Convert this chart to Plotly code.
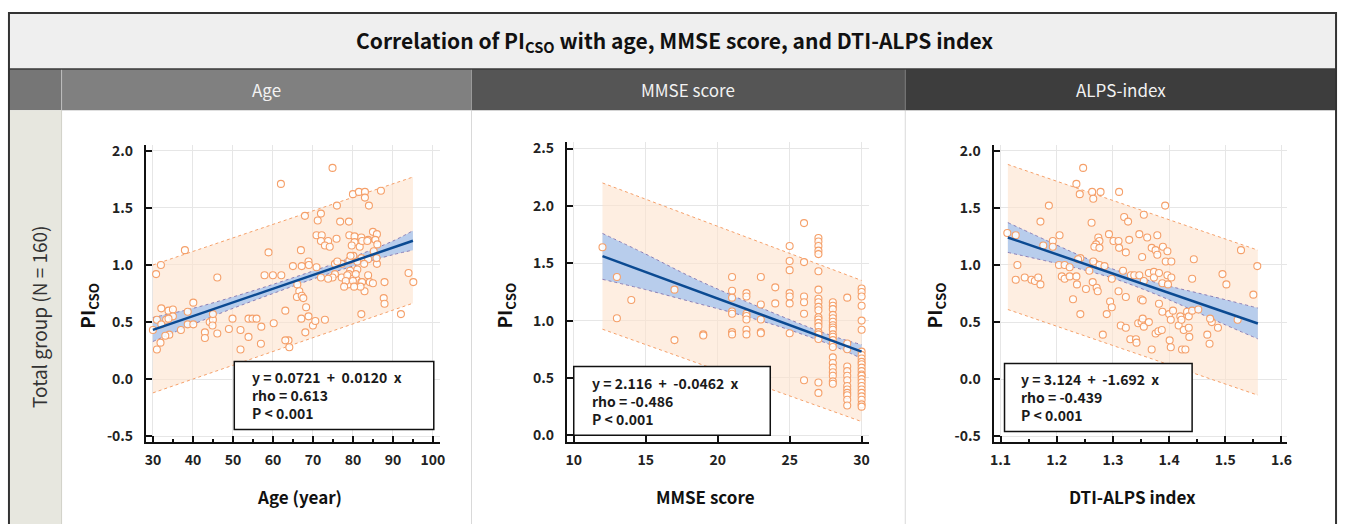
import plotly.graph_objects as go

W, H = 1347, 524
FONT = "Noto Sans CJK KR, Noto Sans, sans-serif"

# ---------------- data ----------------
titles = ["Age", "MMSE score", "ALPS-index"]
x_titles = ["Age (year)", "MMSE score", "DTI-ALPS index"]
row_label = "Total group (N = 160)"
eq_text = ["y = 0.0721  +  0.0120  x", "y = 2.116  +  -0.0462  x", "y = 3.124  +  -1.692  x"]
rho_text = ["rho = 0.613", "rho = -0.486", "rho = -0.439"]
p_text = ["P < 0.001", "P < 0.001", "P < 0.001"]
reg_intercept = [0.0721, 2.116, 3.124]
reg_slope = [0.0120, -0.0462, -1.692]

x_ticks_age = [30, 40, 50, 60, 70, 80, 90, 100]
x_ticks_mmse = [10, 15, 20, 25, 30]
x_ticks_alps = [1.1, 1.2, 1.3, 1.4, 1.5, 1.6]
x_ticklabels_alps = ["1.1", "1.2", "1.3", "1.4", "1.5", "1.6"]
y_ticks_a = [-0.5, 0.0, 0.5, 1.0, 1.5, 2.0]
y_ticklabels_a = ["-0.5", "0.0", "0.5", "1.0", "1.5", "2.0"]
y_ticks_b = [0.0, 0.5, 1.0, 1.5, 2.0, 2.5]
y_ticklabels_b = ["0.0", "0.5", "1.0", "1.5", "2.0", "2.5"]

# Panel 1: Age
age = [74.9, 62.0, 87.0, 80.0, 81.5, 83.0, 83.0, 84.0, 76.0,
       68.0, 72.0, 71.2, 76.8, 79.0,
       70.9, 72.2, 73.8, 72.0, 73.0, 74.2, 75.9, 79.1, 80.4, 82.1, 85.0, 86.0, 85.6, 83.8, 80.4, 79.7, 81.7, 82.3,
       58.9, 67.0, 38.0, 32.0, 30.8, 46.1,
       57.9, 60.0, 62.1,
       65.0, 67.2, 68.9, 69.0, 70.9, 72.0,
       75.5, 77.2, 79.1, 80.1, 82.1, 83.8, 86.0, 85.9, 79.3, 81.1, 79.0, 79.9, 80.9, 82.1, 82.9, 83.8, 84.2, 85.0, 87.9, 87.7, 87.9,
       78.8, 80.0, 77.2, 75.5, 78.6,
       93.9, 95.1, 92.0, 82.1,
       66.1, 66.6, 66.0, 67.2, 67.6, 68.3, 68.9, 67.1, 68.1, 70.0, 70.6, 73.0, 60.2,
       63.1, 63.9, 63.1, 64.1,
       49.9, 53.9, 54.9, 55.9, 49.0, 51.9, 53.9, 57.1, 57.0, 51.9,
       30.0, 31.0, 33.3, 32.1, 33.9, 35.0, 35.0, 33.9, 32.1, 34.1, 33.1, 31.0, 31.9, 37.0, 38.7, 40.1, 38.7, 40.1,
       43.0, 43.0, 44.2, 45.0, 45.0, 46.1, 44.9,
       76.1, 79.4, 81.1, 82.8, 85.2, 83.6, 86.1, 74.9, 78.2, 80.7, 82.3, 81.9, 77.8, 80.3, 73.8]
pi_age = [1.85, 1.71, 1.65, 1.62, 1.64, 1.64, 1.59, 1.52, 1.52,
          1.43, 1.45, 1.39, 1.38, 1.38,
          1.26, 1.26, 1.21, 1.21, 1.17, 1.16, 1.23, 1.26, 1.25, 1.24, 1.29, 1.27, 1.22, 1.22, 1.20, 1.17, 1.16, 1.21,
          1.11, 1.13, 1.13, 1.00, 0.92, 0.89,
          0.91, 0.91, 0.91,
          0.99, 0.99, 1.03, 1.00, 0.98, 0.89,
          1.01, 1.01, 1.04, 1.08, 1.06, 1.05, 1.01, 1.06, 0.95, 0.96, 0.92, 0.88, 0.87, 0.85, 0.77, 0.91, 0.85, 0.84, 0.85, 0.71, 0.66,
          0.83, 0.86, 0.89, 0.92, 0.91,
          0.93, 0.85, 0.57, 0.57,
          0.83, 0.77, 0.72, 0.73, 0.71, 0.63, 0.55, 0.53, 0.41, 0.47, 0.51, 0.52, 0.49,
          0.60, 0.34, 0.34, 0.28,
          0.53, 0.53, 0.53, 0.53, 0.44, 0.43, 0.37, 0.46, 0.31, 0.26,
          0.43, 0.52, 0.52, 0.62, 0.60, 0.61, 0.55, 0.53, 0.48, 0.39, 0.38, 0.26, 0.32, 0.43, 0.48, 0.67, 0.59, 0.48,
          0.41, 0.36, 0.50, 0.52, 0.57, 0.40, 0.47,
          1.03, 1.08, 1.03, 1.01, 1.12, 1.21, 1.18, 0.89, 0.86, 0.92, 0.85, 0.81, 0.81, 0.81, 0.88]

# Panel 2: MMSE
mmse = [12, 13, 13, 14, 17, 17, 19, 19,
        21, 21, 21, 21, 21, 21, 21,
        22, 22, 22, 22, 22, 22, 22,
        23, 23, 23, 23, 23,
        24, 24,
        25, 25, 25, 25, 25, 25, 25,
        26, 26, 26, 26, 26, 26,
        27, 27, 27, 27, 27, 27, 27, 27, 27, 27, 27, 27, 27, 27, 27, 27, 27, 27, 27, 27,
        28, 28, 28, 28, 28, 28, 28, 28, 28, 28, 28, 28, 28, 28, 28, 28, 28, 28, 28, 28, 28,
        29, 29, 29, 29, 29, 29, 29, 29, 29, 29, 29, 29, 29,
        30, 30, 30, 30, 30, 30, 30, 30, 30, 30, 30, 30, 30, 30, 30, 30, 30, 30, 30, 30, 30, 30, 30, 30]
pi_mmse = [1.64, 1.38, 1.02, 1.18, 1.27, 0.83, 0.88, 0.87,
           1.38, 1.26, 1.20, 1.08, 1.06, 0.90, 0.88,
           1.24, 1.21, 1.06, 1.04, 1.01, 0.92, 0.88,
           1.38, 1.14, 1.01, 0.90, 0.89,
           1.29, 1.15,
           1.65, 1.52, 1.44, 1.24, 1.21, 1.15, 0.89,
           1.85, 1.51, 1.21, 1.16, 1.06, 0.48,
           1.72, 1.69, 1.65, 1.61, 1.58, 1.43, 1.27, 1.19, 1.16, 1.12, 1.09, 1.03, 1.01, 0.98, 0.95, 0.90, 0.88, 0.84, 0.46, 0.37,
           1.16, 1.13, 1.10, 1.05, 1.02, 0.99, 0.96, 0.94, 0.92, 0.88, 0.86, 0.83, 0.80, 0.77, 0.68, 0.63, 0.59, 0.55, 0.52, 0.47, 0.45,
           1.20, 0.80, 0.75, 0.60, 0.56, 0.52, 0.48, 0.43, 0.40, 0.37, 0.35, 0.31, 0.26,
           1.28, 1.25, 1.21, 1.13, 1.00, 0.92, 0.73, 0.70, 0.67, 0.64, 0.62, 0.59, 0.56, 0.53, 0.52, 0.49, 0.46, 0.43, 0.40, 0.37, 0.34, 0.31, 0.27, 0.25]

# Panel 3: DTI-ALPS index
alps = [1.247, 1.235, 1.241, 1.263, 1.278, 1.311, 1.265, 1.186, 1.393, 1.171, 1.262, 1.320, 1.327, 1.355,
        1.112, 1.127, 1.205, 1.176, 1.193, 1.193,
        1.274, 1.276, 1.270, 1.267, 1.276, 1.293, 1.301, 1.310, 1.311, 1.323, 1.329,
        1.347, 1.361, 1.379, 1.369, 1.376, 1.379, 1.389, 1.397, 1.394, 1.404, 1.352, 1.444, 1.528,
        1.130, 1.127, 1.143, 1.155, 1.161, 1.167, 1.171,
        1.204, 1.214, 1.223, 1.209, 1.214, 1.223, 1.235, 1.229, 1.242, 1.238, 1.236, 1.242, 1.252,
        1.258, 1.269, 1.276, 1.285, 1.265, 1.264, 1.271, 1.273, 1.282, 1.289, 1.298, 1.295, 1.298, 1.310, 1.314, 1.323,
        1.323, 1.318, 1.332, 1.338, 1.347, 1.350, 1.353, 1.355, 1.364, 1.373, 1.373, 1.382, 1.388, 1.397, 1.404, 1.398,
        1.331, 1.341, 1.342, 1.345, 1.351, 1.353, 1.355, 1.364, 1.369, 1.376, 1.381, 1.387, 1.382, 1.388, 1.400,
        1.403, 1.401, 1.403, 1.407, 1.417, 1.420, 1.422, 1.423, 1.426, 1.432, 1.435, 1.435, 1.441, 1.436, 1.429,
        1.441, 1.452, 1.468, 1.472, 1.476, 1.487, 1.495, 1.502, 1.522, 1.550, 1.557, 1.473]
pi_alps = [1.85, 1.71, 1.62, 1.64, 1.64, 1.64, 1.58, 1.52, 1.52, 1.38, 1.37, 1.42, 1.38, 1.44,
           1.28, 1.26, 1.26, 1.17, 1.21, 1.16,
           1.24, 1.21, 1.18, 1.16, 1.15, 1.27, 1.21, 1.21, 1.15, 1.11, 1.22,
           1.27, 1.24, 1.26, 1.15, 1.13, 1.09, 1.16, 1.12, 1.03, 1.03, 1.07, 1.05, 1.13,
           1.00, 0.87, 0.89, 0.87, 0.86, 0.89, 0.83,
           1.00, 1.00, 0.98, 0.90, 0.88, 0.90, 0.90, 0.70, 1.06, 1.05, 0.83, 0.57, 0.79,
           0.95, 1.01, 1.00, 0.99, 1.03, 0.85, 0.80, 0.77, 0.39, 0.57, 0.88, 0.68, 0.63, 0.77, 0.47, 0.45,
           0.72, 0.95, 0.91, 0.91, 0.91, 0.70, 0.69, 0.86, 0.93, 0.94, 0.89, 0.93, 0.84, 0.91, 0.89, 0.83,
           0.35, 0.35, 0.32, 0.49, 0.50, 0.53, 0.46, 0.50, 0.26, 0.40, 0.42, 0.43, 0.66, 0.59, 0.57,
           0.52, 0.34, 0.28, 0.60, 0.47, 0.55, 0.52, 0.26, 0.43, 0.59, 0.55, 0.45, 0.60, 0.37, 0.26,
           0.88, 0.61, 0.39, 0.31, 0.50, 0.45, 0.92, 0.83, 0.52, 0.74, 0.99, 0.53]

# regression bands
ci_x_age = [30, 40, 50, 60, 70, 80, 90, 95]
ci_lo_age = [0.33, 0.48, 0.62, 0.75, 0.877, 0.99, 1.09, 1.13]
ci_hi_age = [0.54, 0.62, 0.72, 0.83, 0.947, 1.07, 1.21, 1.30]
pi_x_age = [30, 95]
pi_lo_age = [-0.12, 0.665]
pi_hi_age = [1.0, 1.77]

ci_x_mmse = [12, 15, 18, 21, 24, 27, 28.5, 30]
ci_lo_mmse = [1.36, 1.27, 1.17, 1.07, 0.96, 0.83, 0.755, 0.67]
ci_hi_mmse = [1.76, 1.58, 1.39, 1.22, 1.06, 0.91, 0.845, 0.79]
pi_x_mmse = [12, 30]
pi_lo_mmse = [0.925, 0.12]
pi_hi_mmse = [2.20, 1.35]

ci_x_alps = [1.113, 1.2, 1.25, 1.3, 1.35, 1.4, 1.45, 1.5, 1.558]
ci_lo_alps = [1.11, 1.014, 0.954, 0.884, 0.795, 0.695, 0.586, 0.476, 0.353]
ci_hi_alps = [1.371, 1.174, 1.064, 0.964, 0.885, 0.815, 0.756, 0.696, 0.623]
pi_x_alps = [1.113, 1.558]
pi_lo_alps = [0.61, -0.14]
pi_hi_alps = [1.88, 1.13]

# ---------------- helpers ----------------
def px(x):
    return x / W

def py(y):
    return 1 - y / H

panels = [
    dict(x=age, y=pi_age, cix=ci_x_age, cil=ci_lo_age, cih=ci_hi_age, pix=pi_x_age, pil=pi_lo_age, pih=pi_hi_age,
         dom_x=(143, 439), dom_y=(142, 444), xr=[28.26, 101.7], yr=[-0.552, 2.052],
         xtv=x_ticks_age, xtt=[str(v) for v in x_ticks_age], xminor=5, ytv=y_ticks_a, ytt=y_ticklabels_a,
         box=(232, 362, 433, 431), tx=248, ytitle_x=85, xtitle_x=298, xline=[30, 95]),
    dict(x=mmse, y=pi_mmse, cix=ci_x_mmse, cil=ci_lo_mmse, cih=ci_hi_mmse, pix=pi_x_mmse, pil=pi_lo_mmse, pih=pi_hi_mmse,
         dom_x=(567, 871), dom_y=(139, 444), xr=[9.52, 30.48], yr=[-0.06, 2.558],
         xtv=x_ticks_mmse, xtt=[str(v) for v in x_ticks_mmse], xminor=None, ytv=y_ticks_b, ytt=y_ticklabels_b,
         box=(574, 367, 772, 437), tx=590, ytitle_x=505, xtitle_x=707, xline=[12, 30]),
    dict(x=alps, y=pi_alps, cix=ci_x_alps, cil=ci_lo_alps, cih=ci_hi_alps, pix=pi_x_alps, pil=pi_lo_alps, pih=pi_hi_alps,
         dom_x=(997, 1293), dom_y=(142, 444), xr=[1.0876, 1.6106], yr=[-0.552, 2.052],
         xtv=x_ticks_alps, xtt=x_ticklabels_alps, xminor=0.05, ytv=y_ticks_a, ytt=y_ticklabels_a,
         box=(1008, 364, 1197, 433), tx=1023, ytitle_x=938, xtitle_x=1137, xline=[1.113, 1.558]),
]

ORANGE = "#f5a06a"
fig = go.Figure()
shapes = []
annotations = []

for i, p in enumerate(panels):
    n = "" if i == 0 else str(i + 1)
    xa, ya = "x" + n, "y" + n
    # prediction band
    fig.add_trace(go.Scatter(x=p["pix"], y=p["pil"], xaxis=xa, yaxis=ya, mode="lines",
                             line=dict(color=ORANGE, width=1, dash="dot"), showlegend=False, hoverinfo="skip"))
    fig.add_trace(go.Scatter(x=p["pix"], y=p["pih"], xaxis=xa, yaxis=ya, mode="lines", fill="tonexty",
                             fillcolor="rgba(253,226,205,0.6)",
                             line=dict(color=ORANGE, width=1, dash="dot"), showlegend=False, hoverinfo="skip"))
    # confidence band
    fig.add_trace(go.Scatter(x=p["cix"], y=p["cil"], xaxis=xa, yaxis=ya, mode="lines", line_shape="spline",
                             line=dict(color="#8c7fb5", width=1, dash="dot"), showlegend=False, hoverinfo="skip"))
    fig.add_trace(go.Scatter(x=p["cix"], y=p["cih"], xaxis=xa, yaxis=ya, mode="lines", fill="tonexty", line_shape="spline",
                             fillcolor="rgba(180,202,236,0.95)",
                             line=dict(color="#8c7fb5", width=1, dash="dot"), showlegend=False, hoverinfo="skip"))
    # points
    fig.add_trace(go.Scatter(x=p["x"], y=p["y"], xaxis=xa, yaxis=ya, mode="markers",
                             marker=dict(size=7, color="rgba(255,255,255,0.85)", line=dict(color=ORANGE, width=1.1)),
                             showlegend=False))
    # regression line
    lx = p["xline"]
    ly = [reg_intercept[i] + reg_slope[i] * v for v in lx]
    fig.add_trace(go.Scatter(x=lx, y=ly, xaxis=xa, yaxis=ya, mode="lines",
                             line=dict(color="#0b4a92", width=2.5), showlegend=False))

    axis_common = dict(showline=True, linecolor="#111", linewidth=2, ticks="inside", ticklen=6, tickwidth=1.5,
                       tickcolor="#111", showgrid=True, gridcolor="#e6e6e6", gridwidth=1, zeroline=False,
                       tickfont=dict(family=FONT, size=14, color="#222", weight="bold"), fixedrange=True)
    xa_dict = dict(axis_common, domain=[px(p["dom_x"][0]), px(p["dom_x"][1])], range=p["xr"],
                   tickmode="array", tickvals=p["xtv"], ticktext=p["xtt"], anchor=ya, ticklabelstandoff=4)
    if p["xminor"]:
        xa_dict["minor"] = dict(dtick=p["xminor"], tick0=0, ticks="inside", ticklen=3, tickcolor="#111", showgrid=False)
    ya_dict = dict(axis_common, domain=[py(p["dom_y"][1]), py(p["dom_y"][0])], range=p["yr"],
                   tickmode="array", tickvals=p["ytv"], ticktext=p["ytt"], anchor=xa, ticklabelstandoff=8)
    fig.update_layout(**{"xaxis" + n: xa_dict, "yaxis" + n: ya_dict})

    # stat box
    bx0, by0, bx1, by1 = p["box"]
    shapes.append(dict(type="rect", xref="paper", yref="paper", x0=px(bx0), x1=px(bx1), y0=py(by1), y1=py(by0),
                       line=dict(color="#111", width=1.5), fillcolor="white", layer="above"))
    annotations.append(dict(xref="paper", yref="paper", x=px(p["tx"]), y=py((by0 + by1) / 2), xanchor="left",
                            yanchor="middle", align="left", showarrow=False,
                            text="<br>".join([eq_text[i].replace("  ", "\u00a0\u00a0"), rho_text[i], p_text[i]]),
                            font=dict(family=FONT, size=14, color="#1a1a1a", weight="bold")))
    # axis titles
    annotations.append(dict(xref="paper", yref="paper", x=px(p["ytitle_x"]), y=py(305), textangle=-90,
                            xanchor="center", yanchor="middle", showarrow=False, text="PI<sub>CSO</sub>",
                            font=dict(family=FONT, size=19, color="#111", weight="bold")))
    annotations.append(dict(xref="paper", yref="paper", x=px(p["xtitle_x"]), y=py(499), showarrow=False,
                            xanchor="center", yanchor="middle",
                            text=x_titles[i], font=dict(family=FONT, size=17, color="#111", weight="bold")))

# ---------------- table frame ----------------
def rect(x0, y0, x1, y1, fill, line_color=None, lw=0, layer="below"):
    shapes.append(dict(type="rect", xref="paper", yref="paper", x0=px(x0), x1=px(x1), y0=py(y1), y1=py(y0),
                       fillcolor=fill, line=dict(color=line_color or fill, width=lw), layer=layer))

rect(5, 8, 1342, 65, "#efefef")
rect(5, 65, 58, 107, "#767676")
rect(58, 65, 471, 107, "#808080")
rect(471, 65, 908, 107, "#555555")
rect(908, 65, 1342, 107, "#3d3d3d")
rect(5, 107, 58, 530, "#e7e7df")

def line(x0, y0, x1, y1, color, width):
    shapes.append(dict(type="line", xref="paper", yref="paper", x0=px(x0), x1=px(x1), y0=py(y0), y1=py(y1),
                       line=dict(color=color, width=width), layer="below"))

line(58, 65, 58, 107, "#bdbdbd", 1)
line(471, 65, 471, 107, "#9a9a9a", 1)
line(908, 65, 908, 107, "#777777", 1)
line(471, 107, 471, 530, "#d9d9d9", 1)
line(908, 107, 908, 530, "#d9d9d9", 1)
line(58, 107, 58, 530, "#d0d0c8", 1)
line(5, 65, 1342, 65, "#3a3a3a", 1.5)
shapes.append(dict(type="rect", xref="paper", yref="paper", x0=px(5), x1=px(1342), y0=py(540), y1=py(8),
                   line=dict(color="#333", width=2), fillcolor="rgba(0,0,0,0)", layer="above"))

annotations.append(dict(xref="paper", yref="paper", x=px(676), y=py(37), showarrow=False,
                        xanchor="center", yanchor="middle",
                        text="Correlation of PI<sub>CSO</sub> with age, MMSE score, and DTI-ALPS index",
                        font=dict(family=FONT, size=21, color="#111", weight="bold")))
for cx, t in zip([264.5, 689.5, 1125], titles):
    annotations.append(dict(xref="paper", yref="paper", x=px(cx), y=py(86), showarrow=False, text=t,
                            xanchor="center", yanchor="middle",
                            font=dict(family=FONT, size=17, color="#f2f2f2")))
annotations.append(dict(xref="paper", yref="paper", x=px(34), y=py(317), showarrow=False, textangle=-90,
                        xanchor="center", yanchor="middle",
                        text=row_label, font=dict(family=FONT, size=19, color="#333")))

fig.update_layout(width=W, height=H, margin=dict(l=0, r=0, t=0, b=0), paper_bgcolor="white",
                  plot_bgcolor="rgba(0,0,0,0)", shapes=shapes, annotations=annotations, showlegend=False,
                  font=dict(family=FONT))
fig.write_html("out.html", config={"displayModeBar": False},
               post_script="document.body.style.margin='0';document.body.style.overflow='hidden';")
